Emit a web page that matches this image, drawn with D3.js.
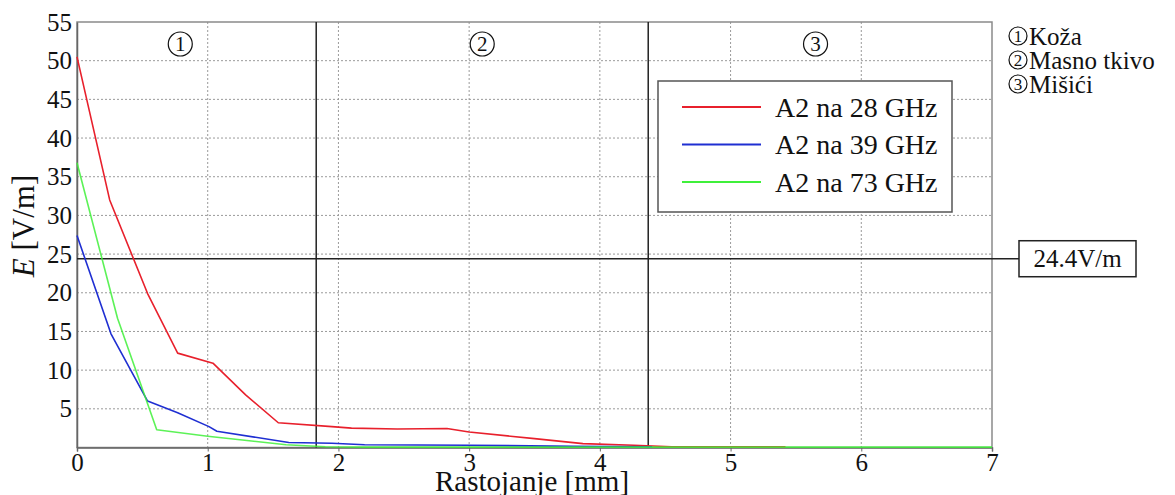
<!DOCTYPE html>
<html><head><meta charset="utf-8">
<script src="https://cdn.jsdelivr.net/npm/d3@7"></script>
<style>body{margin:0;background:#fff}svg{display:block}</style>
</head><body><svg id="c" width="1175" height="495"></svg>
<script>
const seriesNames = ["A2 na 28 GHz", "A2 na 39 GHz", "A2 na 73 GHz"];
const seriesColors = ["#e8202c", "#1f2fd2", "#3ff03a"];
const x28 = [0, 0.25, 0.54, 0.77, 1.04, 1.29, 1.54, 1.95, 2.1, 2.45, 2.83, 3.0, 3.5, 3.87, 4.26, 4.55, 5.42];
const e28 = [50.5, 32.0, 19.9, 12.2, 10.9, 6.8, 3.2, 2.7, 2.5, 2.4, 2.45, 2.0, 1.15, 0.5, 0.3, 0.1, 0.08];
const x39 = [0, 0.26, 0.54, 0.77, 1.01, 1.07, 1.62, 1.95, 2.2, 3.0, 3.8, 4.4];
const e39 = [27.4, 14.7, 6.0, 4.5, 2.7, 2.1, 0.65, 0.55, 0.35, 0.3, 0.15, 0.1];
const x73 = [0, 0.31, 0.61, 1.0, 1.3, 1.6, 1.9, 2.2, 7];
const e73 = [36.8, 16.7, 2.3, 1.45, 0.9, 0.35, 0.1, 0.05, 0.05];
const xTicks = [0, 1, 2, 3, 4, 5, 6, 7];
const yTicks = [5, 10, 15, 20, 25, 30, 35, 40, 45, 50, 55];
const boundaries = [1.83, 4.37];
const regionNums = ["1", "2", "3"];
const regionX = [0.79, 3.1, 5.65];
const regionNames = ["Koža", "Masno tkivo", "Mišići"];
const limitValue = 24.4;
const limitLabel = "24.4V/m";

const FONT = '"Liberation Serif", "Times New Roman", serif';
const svg = d3.select("#c");
const x = d3.scaleLinear().domain([0, 7]).range([77, 992]);
const y = d3.scaleLinear().domain([0, 55]).range([447.5, 22]);

// grid
const g = svg.append("g");
g.selectAll("line.gx").data(xTicks.slice(1, -1)).join("line")
  .attr("x1", d => x(d)).attr("x2", d => x(d)).attr("y1", y(55)).attr("y2", y(0))
  .attr("stroke", "#9a9a9a").attr("stroke-width", 1).attr("stroke-dasharray", "2,2");
g.selectAll("line.gy").data(yTicks.slice(0, -1)).join("line")
  .attr("x1", x(0)).attr("x2", x(7)).attr("y1", d => y(d)).attr("y2", d => y(d))
  .attr("stroke", "#9a9a9a").attr("stroke-width", 1).attr("stroke-dasharray", "2,2");

// frame
svg.append("rect").attr("x", x(0)).attr("y", y(55)).attr("width", x(7) - x(0)).attr("height", y(0) - y(55))
  .attr("fill", "none").attr("stroke", "#8a8a8a").attr("stroke-width", 1.5);

// axes
const xAxis = svg.append("g").attr("transform", `translate(0,${y(0)})`)
  .call(d3.axisBottom(x).tickValues(xTicks).tickFormat(d3.format("d")).tickSize(4).tickPadding(2));
xAxis.select(".domain").attr("stroke", "#666").attr("stroke-width", 1.5);
xAxis.selectAll(".tick line").attr("stroke", "#666");
xAxis.selectAll("text").style("font-size", "25px");

const yAxis = svg.append("g").attr("transform", `translate(${x(0)},0)`)
  .call(d3.axisLeft(y).tickValues(yTicks).tickSize(0).tickPadding(5));
yAxis.select(".domain").attr("stroke", "#666").attr("stroke-width", 1.5);
yAxis.selectAll("text").style("font-size", "25px");

// boundaries
svg.selectAll("line.bd").data(boundaries).join("line")
  .attr("x1", d => x(d)).attr("x2", d => x(d)).attr("y1", y(55)).attr("y2", y(0))
  .attr("stroke", "#222").attr("stroke-width", 1.5);

// limit line
svg.append("line").attr("x1", x(0)).attr("x2", 1019).attr("y1", y(limitValue)).attr("y2", y(limitValue))
  .attr("stroke", "#222").attr("stroke-width", 1.5);
svg.append("rect").attr("x", 1019).attr("y", y(limitValue) - 18).attr("width", 117).attr("height", 36)
  .attr("fill", "#fff").attr("stroke", "#222").attr("stroke-width", 1.5);
svg.append("text").attr("x", 1077.5).attr("y", y(limitValue) + 8).attr("text-anchor", "middle")
  .style("font-size", "25px").text(limitLabel);

// series
const series = [[x28, e28], [x39, e39], [x73, e73]];
const line = d3.line().x(d => x(d[0])).y(d => y(d[1]));
series.forEach((s, i) => {
  const pts = s[0].map((v, k) => [v, s[1][k]]);
  svg.append("path").attr("d", line(pts)).attr("fill", "none")
    .attr("stroke", seriesColors[i]).attr("stroke-width", 1.6).attr("stroke-linejoin", "round")
    .attr("stroke-opacity", i === 2 ? 0.85 : 1);
});

// legend
const lg = svg.append("g");
lg.append("rect").attr("x", 658).attr("y", 81).attr("width", 294).attr("height", 131)
  .attr("fill", "#fff").attr("stroke", "#555").attr("stroke-width", 1.5);
seriesNames.forEach((n, i) => {
  const yy = 107 + i * 37.5;
  lg.append("line").attr("x1", 682).attr("x2", 761).attr("y1", yy).attr("y2", yy)
    .attr("stroke", seriesColors[i]).attr("stroke-width", 2);
  lg.append("text").attr("x", 775).attr("y", yy + 9.5).style("font-size", "28px").text(n);
});

// circled number helper
function circled(parent, cx, cy, r, num, fs) {
  parent.append("circle").attr("cx", cx).attr("cy", cy).attr("r", r)
    .attr("fill", "none").attr("stroke", "#111").attr("stroke-width", 1.2);
  parent.append("text").attr("x", cx).attr("y", cy + fs * 0.34).attr("text-anchor", "middle")
    .style("font-size", fs + "px").text(num);
}
regionNums.forEach((n, i) => circled(svg, x(regionX[i]), 44, 12, n, 21));

// right annotations
regionNames.forEach((n, i) => {
  const yy = 36 + i * 24;
  circled(svg, 1018, yy, 9, regionNums[i], 17);
  svg.append("text").attr("x", 1029).attr("y", yy + 9).style("font-size", "25px").text(n);
});

// axis titles
svg.append("text").attr("x", 532).attr("y", 491).attr("text-anchor", "middle")
  .style("font-size", "29px").text("Rastojanje [mm]");
const yt = svg.append("text").attr("transform", "translate(34,226) rotate(-90)").attr("text-anchor", "middle")
  .style("font-size", "31px");
yt.append("tspan").style("font-style", "italic").text("E");
yt.append("tspan").text(" [V/m]");

svg.selectAll("text").style("font-family", FONT).style("fill", "#111");
</script></body></html>
